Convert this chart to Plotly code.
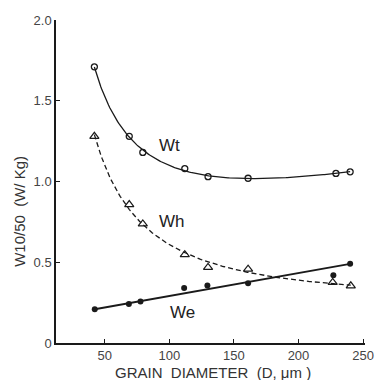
import numpy as np
import plotly.graph_objects as go

# Grain diameter (µm)
d_wt = [42, 69, 79.5, 112, 130, 161, 229, 240]
wt = [1.71, 1.28, 1.18, 1.08, 1.03, 1.02, 1.05, 1.06]

d_wh = [42, 69, 79.5, 112, 130, 161, 226.5, 240.5]
wh = [1.28, 0.857, 0.737, 0.547, 0.468, 0.457, 0.375, 0.354]

d_we = [42.3, 68.7, 77.7, 111.5, 129.5, 161, 227, 240]
we = [0.209, 0.242, 0.257, 0.34, 0.356, 0.37, 0.42, 0.49]

x_ticks = [50, 100, 150, 200, 250]
y_ticks = [0, 0.5, 1.0, 1.5, 2.0]
y_ticklabels = ["0", "0.5", "1.0", "1.5", "2.0"]


def smooth_fit(x, y):
    x = np.asarray(x, float)
    y = np.asarray(y, float)
    A = np.column_stack([np.ones_like(x), 1.0 / x, x])
    coef, *_ = np.linalg.lstsq(A, y, rcond=None)
    xs = np.linspace(x.min(), x.max(), 200)
    ys = np.column_stack([np.ones_like(xs), 1.0 / xs, xs]) @ coef
    return xs, ys


fig = go.Figure()
ink = "#1a1a1a"

xs, ys = smooth_fit(d_wt, wt)
fig.add_trace(go.Scatter(x=xs, y=ys, mode="lines", line=dict(color=ink, width=1.3)))
fig.add_trace(go.Scatter(x=d_wt, y=wt, mode="markers",
                         marker=dict(symbol="circle-open", size=6, color=ink, line=dict(width=1.3))))

xs, ys = smooth_fit(d_wh, wh)
fig.add_trace(go.Scatter(x=xs, y=ys, mode="lines", line=dict(color=ink, width=1.3, dash="5px,3px")))
fig.add_trace(go.Scatter(x=d_wh, y=wh, mode="markers",
                         marker=dict(symbol="triangle-up-open", size=8, color=ink, line=dict(width=1.2))))

fig.add_trace(go.Scatter(x=[d_we[0], d_we[-1]], y=[we[0], we[-1]], mode="lines",
                         line=dict(color=ink, width=1.8)))
fig.add_trace(go.Scatter(x=d_we, y=we, mode="markers",
                         marker=dict(symbol="circle", size=6, color=ink)))

labels = [("Wt", 100, 1.22), ("Wh", 102, 0.75), ("We", 110, 0.19)]
for t, x, y in labels:
    fig.add_annotation(x=x, y=y, text=t, showarrow=False,
                       font=dict(family="Liberation Sans, Arial", size=17, color="#222"))

fig.add_annotation(xref="paper", yref="paper", x=0, y=0.406, xanchor="center", yanchor="middle",
                   xshift=-36,
                   text="W10/50  (W/ Kg)", textangle=-90, showarrow=False,
                   font=dict(family="Liberation Sans, Arial", size=15, color="#333"))

fig.add_annotation(xref="paper", yref="paper", x=0.508, y=0, xanchor="center", yanchor="top",
                   yshift=-19,
                   text="GRAIN  DIAMETER  (D, μm )", showarrow=False,
                   font=dict(family="Liberation Sans, Arial", size=15, color="#333"))

fig.update_layout(
    width=376, height=380,
    margin=dict(l=56, r=11, t=20, b=37),
    paper_bgcolor="white", plot_bgcolor="white",
    showlegend=False,
    font=dict(family="Liberation Sans, Arial", size=13, color="#444"),
)
fig.update_xaxes(range=[12.3, 251.5], tickvals=x_ticks, ticks="inside", ticklen=4,
                 tickcolor=ink, showline=True, linecolor=ink, linewidth=1.5,
                 showgrid=False, zeroline=False, automargin=False)
fig.update_yaxes(range=[0, 2.0], tickvals=y_ticks, ticktext=y_ticklabels, ticks="inside",
                 ticklen=4, tickcolor=ink, showline=True, linecolor=ink, linewidth=1.5,
                 showgrid=False, zeroline=False, automargin=False)

# remove the default page margin so the 376x380 figure fills the window exactly
fig.write_html(
    "out.html",
    config={"displayModeBar": False},
    post_script="document.body.style.margin='0';document.body.style.overflow='hidden';",
)
